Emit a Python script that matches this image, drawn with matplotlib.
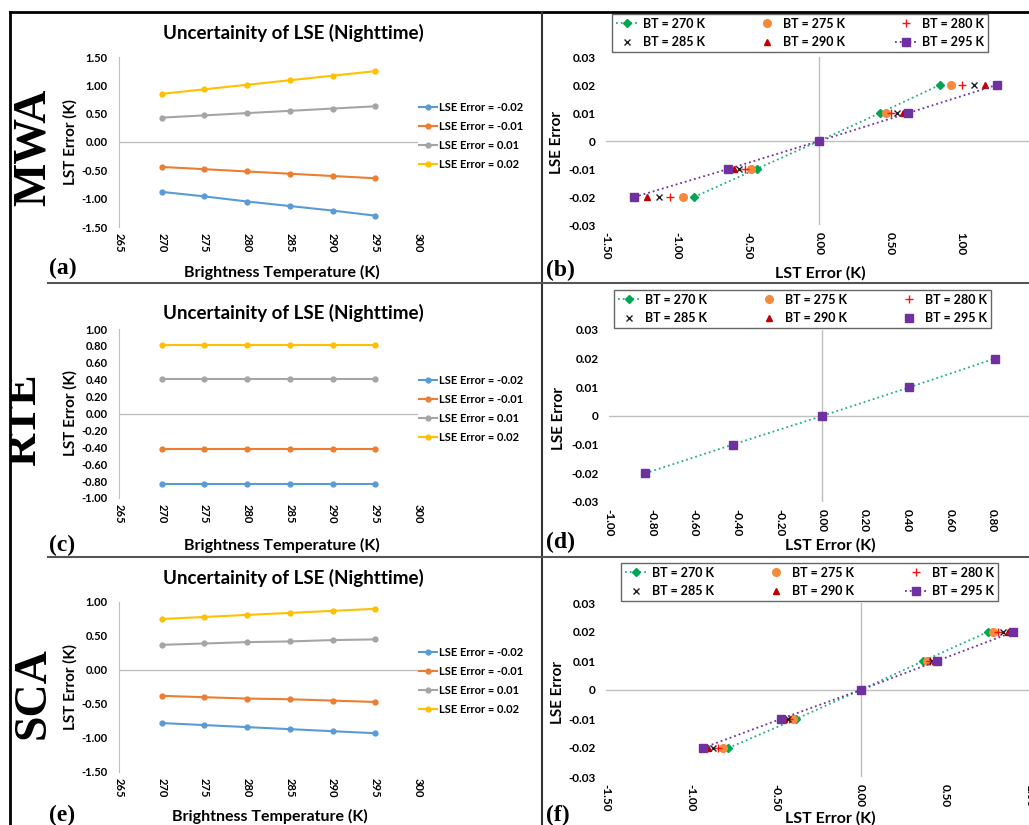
import matplotlib
matplotlib.use('Agg')
import matplotlib.pyplot as plt
from matplotlib.lines import Line2D
from matplotlib.patches import Rectangle

W, H = 1029, 825

plt.rcParams['font.family'] = ['Lato', 'DejaVu Sans']
plt.rcParams['font.weight'] = 'bold'

# Brightness temperatures and LSE error levels
bt = [270, 275, 280, 285, 290, 295]
lse_levels = [-0.02, -0.01, 0.01, 0.02]
lse_axis = [-0.02, -0.01, 0.0, 0.01, 0.02]
lse_labels = ['LSE Error = -0.02', 'LSE Error = -0.01', 'LSE Error = 0.01', 'LSE Error = 0.02']
bt_labels = ['BT = 270 K', 'BT = 275 K', 'BT = 280 K', 'BT = 285 K', 'BT = 290 K', 'BT = 295 K']

# LST error (K): one row per LSE error level, one column per BT
mwa_lst = [
    [-0.88, -0.96, -1.05, -1.13, -1.21, -1.30],
    [-0.44, -0.48, -0.52, -0.56, -0.60, -0.64],
    [0.43, 0.47, 0.51, 0.55, 0.59, 0.63],
    [0.85, 0.93, 1.01, 1.09, 1.17, 1.25],
]
rte_lst = [
    [-0.83, -0.83, -0.83, -0.83, -0.83, -0.83],
    [-0.42, -0.42, -0.42, -0.42, -0.42, -0.42],
    [0.41, 0.41, 0.41, 0.41, 0.41, 0.41],
    [0.81, 0.81, 0.81, 0.81, 0.81, 0.81],
]
sca_lst = [
    [-0.78, -0.81, -0.84, -0.87, -0.90, -0.93],
    [-0.38, -0.40, -0.42, -0.43, -0.45, -0.47],
    [0.37, 0.39, 0.41, 0.42, 0.44, 0.45],
    [0.75, 0.78, 0.81, 0.84, 0.87, 0.90],
]
# LST error at zero LSE error
zero_lst = 0.0

line_colors = ['#5B9BD5', '#ED7D31', '#A5A5A5', '#FFC000']
GRID = '#BFBFBF'

bt_styles = [
    dict(marker='D', ms=4.0, color='#00A651', line='#1FB08A'),
    dict(marker='o', ms=5.5, color='#F58A3C', line='#F58A3C'),
    dict(marker='+', ms=6.0, color='#FF1010', line='#FF1010'),
    dict(marker='x', ms=5.0, color='#222222', line='#222222'),
    dict(marker='^', ms=4.8, color='#C00000', line='#C00000'),
    dict(marker='s', ms=5.5, color='#7030A0', line='#7030A0'),
]

fig = plt.figure(figsize=(W / 100, H / 100), dpi=100)


def fbox(x0, y0, x1, y1):
    return [x0 / W, 1 - y1 / H, (x1 - x0) / W, (y1 - y0) / H]


def fx(x):
    return x / W


def fy(y):
    return 1 - y / H


def ftext(x, y, s, **kw):
    fig.text(fx(x), fy(y), s, **kw)


def line_panel(rect, data, ylim, yticks, legend_y, title_y, xlab_xy, ylab_x):
    ax = fig.add_axes(fbox(*rect))
    for row, c, lab in zip(data, line_colors, lse_labels):
        ax.plot(bt, row, color=c, lw=1.5, marker='o', ms=3.5, label=lab)
    ax.set_xlim(265, 300)
    ax.set_xticks(range(265, 301, 5))
    ax.set_ylim(*ylim)
    ax.set_yticks(yticks)
    ax.set_yticklabels([f'{v:.2f}' for v in yticks])
    ax.tick_params(axis='x', labelrotation=-90, length=0, pad=4, labelsize=8)
    ax.tick_params(axis='y', length=0, pad=8, labelsize=8)
    for s in ('top', 'right', 'bottom'):
        ax.spines[s].set_visible(False)
    ax.spines['left'].set_color(GRID)
    ax.axhline(0, color=GRID, lw=1, zorder=0)
    ax.legend(loc='center left', bbox_to_anchor=(fx(419), fy(legend_y)),
              bbox_transform=fig.transFigure, frameon=False, fontsize=8,
              handlelength=1.6, handletextpad=0.2, labelspacing=0.72,
              borderaxespad=0, borderpad=0)
    ftext(293, title_y, 'Uncertainity of LSE (Nighttime)',
          fontsize=13.5, ha='center', va='center')
    ftext(xlab_xy[0], xlab_xy[1], 'Brightness Temperature (K)',
          fontsize=11.5, ha='center', va='center')
    ftext(ylab_x, (rect[1] + rect[3]) / 2, 'LST Error (K)', fontsize=11,
          rotation=90, ha='center', va='center')
    return ax


def scatter_panel(rect, data, xlim, xticks, lined, legend_rect, xlab_xy, ylab_xy):
    ax = fig.add_axes(fbox(*rect))
    handles = []
    for j, (st, lab) in enumerate(zip(bt_styles, bt_labels)):
        xs = [data[0][j], data[1][j], zero_lst, data[2][j], data[3][j]]
        ls = ':' if j in lined else 'none'
        h, = ax.plot(xs, lse_axis, ls=ls, lw=1.3, color=st['line'],
                     marker=st['marker'], ms=st['ms'], mfc=st['color'], mec=st['color'],
                     mew=1.0, label=lab, zorder=3 + j)
        handles.append(h)
    ax.set_xlim(*xlim)
    ax.set_xticks(xticks)
    ax.set_xticklabels([f'{v:.2f}' for v in xticks])
    ax.set_ylim(-0.03, 0.03)
    yt = [-0.03, -0.02, -0.01, 0.0, 0.01, 0.02, 0.03]
    ax.set_yticks(yt)
    ax.set_yticklabels(['-0.03', '-0.02', '-0.01', '0', '0.01', '0.02', '0.03'])
    ax.tick_params(axis='x', labelrotation=-90, length=0, pad=5, labelsize=8.5)
    ax.tick_params(axis='y', length=0, pad=7.5, labelsize=8.5)
    for s in ax.spines.values():
        s.set_visible(False)
    ax.axhline(0, color=GRID, lw=1, zorder=0)
    ax.axvline(0, color=GRID, lw=1, zorder=0)
    x0, y0, x1, y1 = legend_rect
    order = [0, 3, 1, 4, 2, 5]
    leg = ax.legend(handles=[handles[i] for i in order], ncol=3, mode='expand',
                    loc='upper left', bbox_to_anchor=(fx(x0), fy(y0), (x1 - x0) / W, 0.0),
                    bbox_transform=fig.transFigure, fontsize=9, fancybox=False,
                    handlelength=1.8, handletextpad=0.4, labelspacing=0.5,
                    borderpad=0.3, borderaxespad=0, columnspacing=1.0)
    leg.get_frame().set_edgecolor('#404040')
    leg.get_frame().set_linewidth(1.0)
    ftext(xlab_xy[0], xlab_xy[1], 'LST Error (K)', fontsize=11.5, ha='center', va='center')
    ftext(ylab_xy[0], ylab_xy[1], 'LSE Error', fontsize=11, rotation=90,
          ha='center', va='center')
    return ax


# Row 1: MWA
line_panel((119, 57, 418, 227), mwa_lst, (-1.5, 1.5), [-1.5, -1.0, -0.5, 0.0, 0.5, 1.0, 1.5],
           legend_y=136, title_y=33, xlab_xy=(282, 272), ylab_x=70)
scatter_panel((606, 57, 1032, 225), mwa_lst, (-1.5, 1.5), [-1.5, -1.0, -0.5, 0.0, 0.5, 1.0, 1.5],
              lined=(0, 5), legend_rect=(612, 14, 988, 52), xlab_xy=(820, 273), ylab_xy=(557, 143))

# Row 2: RTE
line_panel((119, 329, 418, 498), rte_lst, (-1.0, 1.0),
           [-1.0, -0.8, -0.6, -0.4, -0.2, 0.0, 0.2, 0.4, 0.6, 0.8, 1.0],
           legend_y=409, title_y=313, xlab_xy=(282, 545), ylab_x=70)
scatter_panel((609, 330, 1035, 502), rte_lst, (-1.0, 1.0),
              [-1.0, -0.8, -0.6, -0.4, -0.2, 0.0, 0.2, 0.4, 0.6, 0.8, 1.0],
              lined=(0,), legend_rect=(614, 290, 991, 328), xlab_xy=(830, 545), ylab_xy=(559, 418))

# Row 3: SCA
line_panel((119, 602, 418, 772), sca_lst, (-1.5, 1.0), [-1.5, -1.0, -0.5, 0.0, 0.5, 1.0],
           legend_y=681, title_y=578, xlab_xy=(270, 816), ylab_x=70)
scatter_panel((606, 603, 1115, 777), sca_lst, (-1.5, 1.5), [-1.5, -1.0, -0.5, 0.0, 0.5, 1.0, 1.5],
              lined=(0, 5), legend_rect=(621, 563, 998, 601), xlab_xy=(830, 818), ylab_xy=(558, 692))

# Method names down the left edge
serif = ['Liberation Serif', 'DejaVu Serif']
for name, bx, cy in [('MWA', 45, 147), ('RTE', 35, 420), ('SCA', 45, 693)]:
    ftext(bx, cy, name, fontsize=33, family=serif, rotation=90, rotation_mode='anchor',
          ha='center', va='baseline')

# Panel letters
for lab, x, y in [('(a)', 49, 268), ('(b)', 546, 270), ('(c)', 49, 545),
                  ('(d)', 546, 542), ('(e)', 49, 815), ('(f)', 546, 815)]:
    ftext(x, y, lab, fontsize=17, family=serif, ha='left', va='center')

# Frame and separators
fig.add_artist(Rectangle((0, 0), fx(10), 1, transform=fig.transFigure,
                         color='white', zorder=10))
frame = [
    ([10, 1029], [12, 12], 2.0, 'black'),
    ([10, 10], [12, 825], 2.0, 'black'),
    ([542, 542], [12, 825], 1.5, '#333333'),
    ([48, 1029], [283, 283], 1.5, '#555555'),
    ([48, 1029], [557, 557], 1.5, '#555555'),
]
for xs, ys, lw, c in frame:
    fig.add_artist(Line2D([fx(v) for v in xs], [fy(v) for v in ys],
                          transform=fig.transFigure, lw=lw, color=c, zorder=11))

fig.savefig('out.png', dpi=100)
